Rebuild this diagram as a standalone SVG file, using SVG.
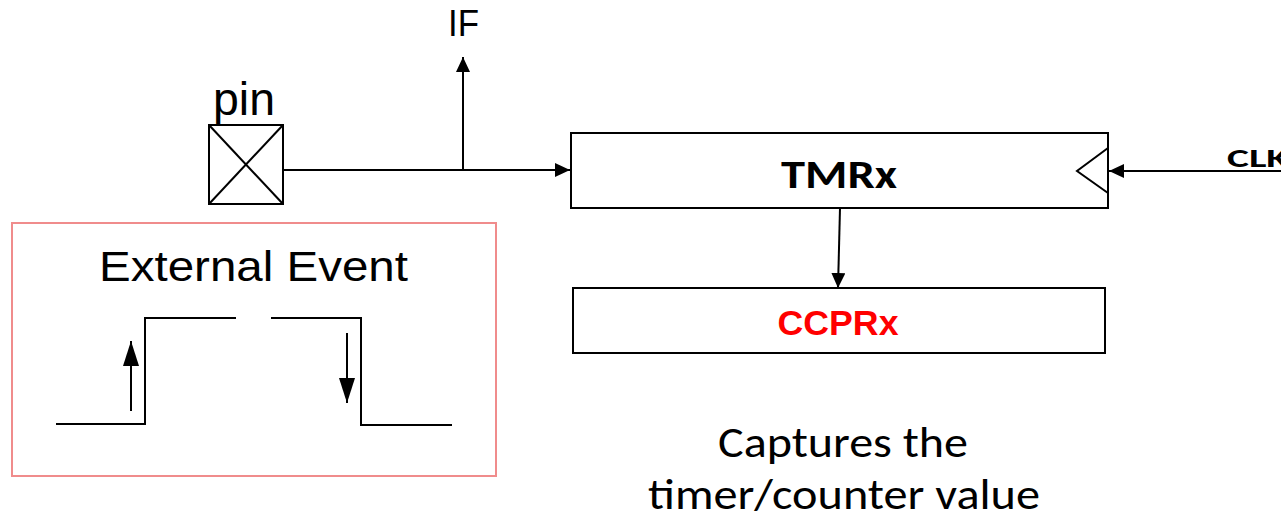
<svg xmlns="http://www.w3.org/2000/svg" width="1281" height="521" viewBox="0 0 1281 521">
  <style>
    .ln { stroke: #000; stroke-width: 2; fill: none; }
    .box { stroke: #000; stroke-width: 2; fill: #fff; }
    .t { font-family: "Liberation Sans", Arial, sans-serif; fill: #000; }
    .c { font-family: Carlito, "Liberation Sans", Arial, sans-serif; fill: #000; }
  </style>
  <defs>
    <marker id="ah" markerUnits="userSpaceOnUse" markerWidth="16" markerHeight="14" refX="15" refY="7" orient="auto">
      <path d="M0,0 L15,7 L0,14 Z" fill="#000"/>
    </marker>
    <marker id="ahb" markerUnits="userSpaceOnUse" markerWidth="26" markerHeight="16" refX="25" refY="8" orient="auto">
      <path d="M0,0 L25,8 L0,16 Z" fill="#000"/>
    </marker>
  </defs>
  <rect width="1281" height="521" fill="#fff"/>

  <g id="connectors">
    <line class="ln" x1="283" y1="170" x2="570" y2="170" marker-end="url(#ah)"/>
    <line class="ln" x1="463" y1="170" x2="463" y2="57" marker-end="url(#ah)"/>
    <line class="ln" x1="1281" y1="171" x2="1109" y2="171" marker-end="url(#ah)"/>
    <line class="ln" x1="840" y1="208" x2="838" y2="288" marker-end="url(#ah)"/>
  </g>

  <g id="if-label">
    <text class="t" x="448" y="36" font-size="36" textLength="31" lengthAdjust="spacingAndGlyphs">IF</text>
  </g>

  <g id="pin">
    <text class="t" x="213" y="115" font-size="46" textLength="62" lengthAdjust="spacingAndGlyphs">pin</text>
    <rect class="box" x="209" y="125" width="74" height="79"/>
    <line class="ln" x1="209" y1="125" x2="283" y2="204"/>
    <line class="ln" x1="283" y1="125" x2="209" y2="204"/>
  </g>

  <g id="tmrx">
    <rect class="box" x="571" y="133" width="537" height="75"/>
    <polyline class="ln" points="1108,148 1077,171 1108,193"/>
    <text class="c" x="781" y="188" font-size="40" font-weight="bold" textLength="116" lengthAdjust="spacingAndGlyphs">TMRx</text>
  </g>

  <g id="clk">
    <text class="c" x="1227" y="167" font-size="26" font-weight="bold" textLength="62" lengthAdjust="spacingAndGlyphs">CLK</text>
  </g>

  <g id="ccprx">
    <rect class="box" x="573" y="288" width="532" height="65"/>
    <text class="t" x="838" y="335" font-size="35" font-weight="bold" fill="#ff0000" style="fill:#ff0000" text-anchor="middle" textLength="121" lengthAdjust="spacingAndGlyphs">CCPRx</text>
  </g>

  <g id="external-event">
    <rect x="12" y="223" width="484" height="253" fill="none" stroke="#f08c8c" stroke-width="2"/>
    <text class="t" x="99" y="281" font-size="42" textLength="309" lengthAdjust="spacingAndGlyphs">External Event</text>
    <polyline class="ln" points="56,424 145,424 145,318 236,318"/>
    <polyline class="ln" points="271,318 361,318 361,425 452,425"/>
    <line class="ln" x1="131" y1="411" x2="131" y2="341" marker-end="url(#ahb)"/>
    <line class="ln" x1="347" y1="333" x2="347" y2="403" marker-end="url(#ahb)"/>
  </g>

  <g id="caption">
    <text class="c" x="843" y="457" font-size="43" text-anchor="middle" textLength="250" lengthAdjust="spacingAndGlyphs">Captures the</text>
    <text class="c" x="844" y="509" font-size="43" text-anchor="middle" textLength="392" lengthAdjust="spacingAndGlyphs">timer/counter value</text>
  </g>
</svg>
